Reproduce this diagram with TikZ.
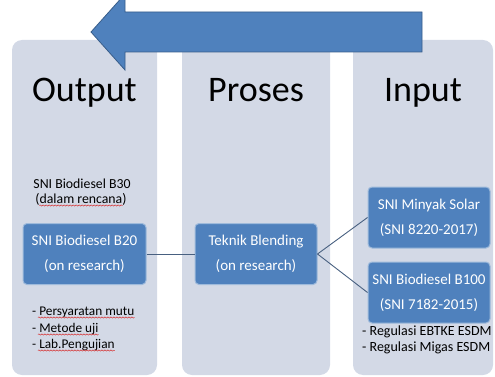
\documentclass[tikz,border=0pt]{standalone}
\usepackage{fontspec}
\setmainfont{Carlito}
\usetikzlibrary{positioning, calc, decorations.pathmorphing}
\definecolor{panelgr}{RGB}{211,217,230}
\definecolor{boxblue}{RGB}{79,129,189}
\definecolor{arrowdk}{RGB}{56,93,138}
\definecolor{linkgr}{RGB}{72,96,128}
\definecolor{spellred}{RGB}{215,45,45}

\begin{document}
\begin{tikzpicture}[
    x=1pt, y=-1pt,
    panel/.style={fill=panelgr, rounded corners=10pt, minimum height=335pt, inner sep=0pt},
    box/.style={fill=boxblue, draw=boxblue!55!white, line width=1pt, rounded corners=4pt,
                minimum width=122pt, minimum height=61pt, text=white, align=center,
                font=\fontsize{15}{25}\selectfont, inner sep=0pt},
    title/.style={anchor=base, font=\fontsize{36}{40}\selectfont, inner sep=0pt},
    note/.style={anchor=base west, font=\fontsize{13.3}{16}\selectfont, inner sep=0pt},
    plan/.style={anchor=base, font=\fontsize{13.8}{15}\selectfont, inner sep=0pt},
    link/.style={draw=linkgr, line width=0.9pt},
    spell/.style={draw=spellred, line width=0.5pt, decorate,
                  decoration={snake, amplitude=0.6pt, segment length=3pt}},
]
\useasboundingbox (0,0) rectangle (495,377);
\clip (0,0) rectangle (495,377);

% columns
\node[panel, minimum width=145pt] at (84.5,207.5) (pout) {};
\node[panel, minimum width=148pt] at (256,207.5) (ppro) {};
\node[panel, minimum width=140pt] at (423,207.5) (pin) {};

% flow arrow, input -> output
\fill[boxblue, draw=arrowdk, line width=0.8pt]
    (91,32) -- (125,-6) -- (125,12) -- (422,12) -- (422,52) -- (125,52) -- (125,70) -- cycle;

\coordinate (titleY) at (0,102);
\node[title] at (pout |- titleY) (tout) {Output};
\node[title] at (ppro |- titleY) (tpro) {Proses};
\node[title] at (pin |- titleY) (tin) {Input};

\coordinate (boxY) at (0,254);
\node[box, minimum width=123pt] at (pout |- boxY) (b20) {SNI Biodiesel B20\\(on research)};
\node[box] at (ppro |- boxY) (blend) {Teknik Blending\\(on research)};
\node[box] at (429,217.5) (solar) {SNI Minyak Solar\\(SNI 8220-2017)};
\node[box, below=13pt of solar] (b100) {SNI Biodiesel B100\\(SNI 7182-2015)};

\draw[link] (b20.east) -- (blend.west);
\draw[link] (blend.east) -- (solar.west);
\draw[link] (blend.east) -- (b100.west);

\node[plan] at (82,188) (b30) {SNI Biodiesel B30};
\node[plan] at (81,203) (b30plan) {(dalam rencana)};

\node[note] at (32,315) (mutu) {- Persyaratan mutu};
\node[note] at (32,332) (uji) {- Metode uji};
\node[note] at (32,348) (lab) {- Lab.Pengujian};

\node[note, font=\fontsize{14}{16}\selectfont] at (362,335) (ebtke) {- Regulasi EBTKE ESDM};
\node[note, font=\fontsize{14}{16}\selectfont] at (362,351) (migas) {- Regulasi Migas ESDM};

% spell-check marks
\draw[spell] ([xshift=4pt, yshift=-2.5pt]b30plan.base west) -- ([xshift=-4pt, yshift=-2.5pt]b30plan.base east);
\draw[spell] ([xshift=6pt, yshift=-2.5pt]mutu.base west) -- ([yshift=-2.5pt]mutu.base east);
\draw[spell] ([xshift=6pt, yshift=-2.5pt]uji.base west) -- ([yshift=-2.5pt]uji.base east);
\draw[spell] ([xshift=6pt, yshift=-2.5pt]lab.base west) -- ([yshift=-2.5pt]lab.base east);

\end{tikzpicture}
\end{document}
